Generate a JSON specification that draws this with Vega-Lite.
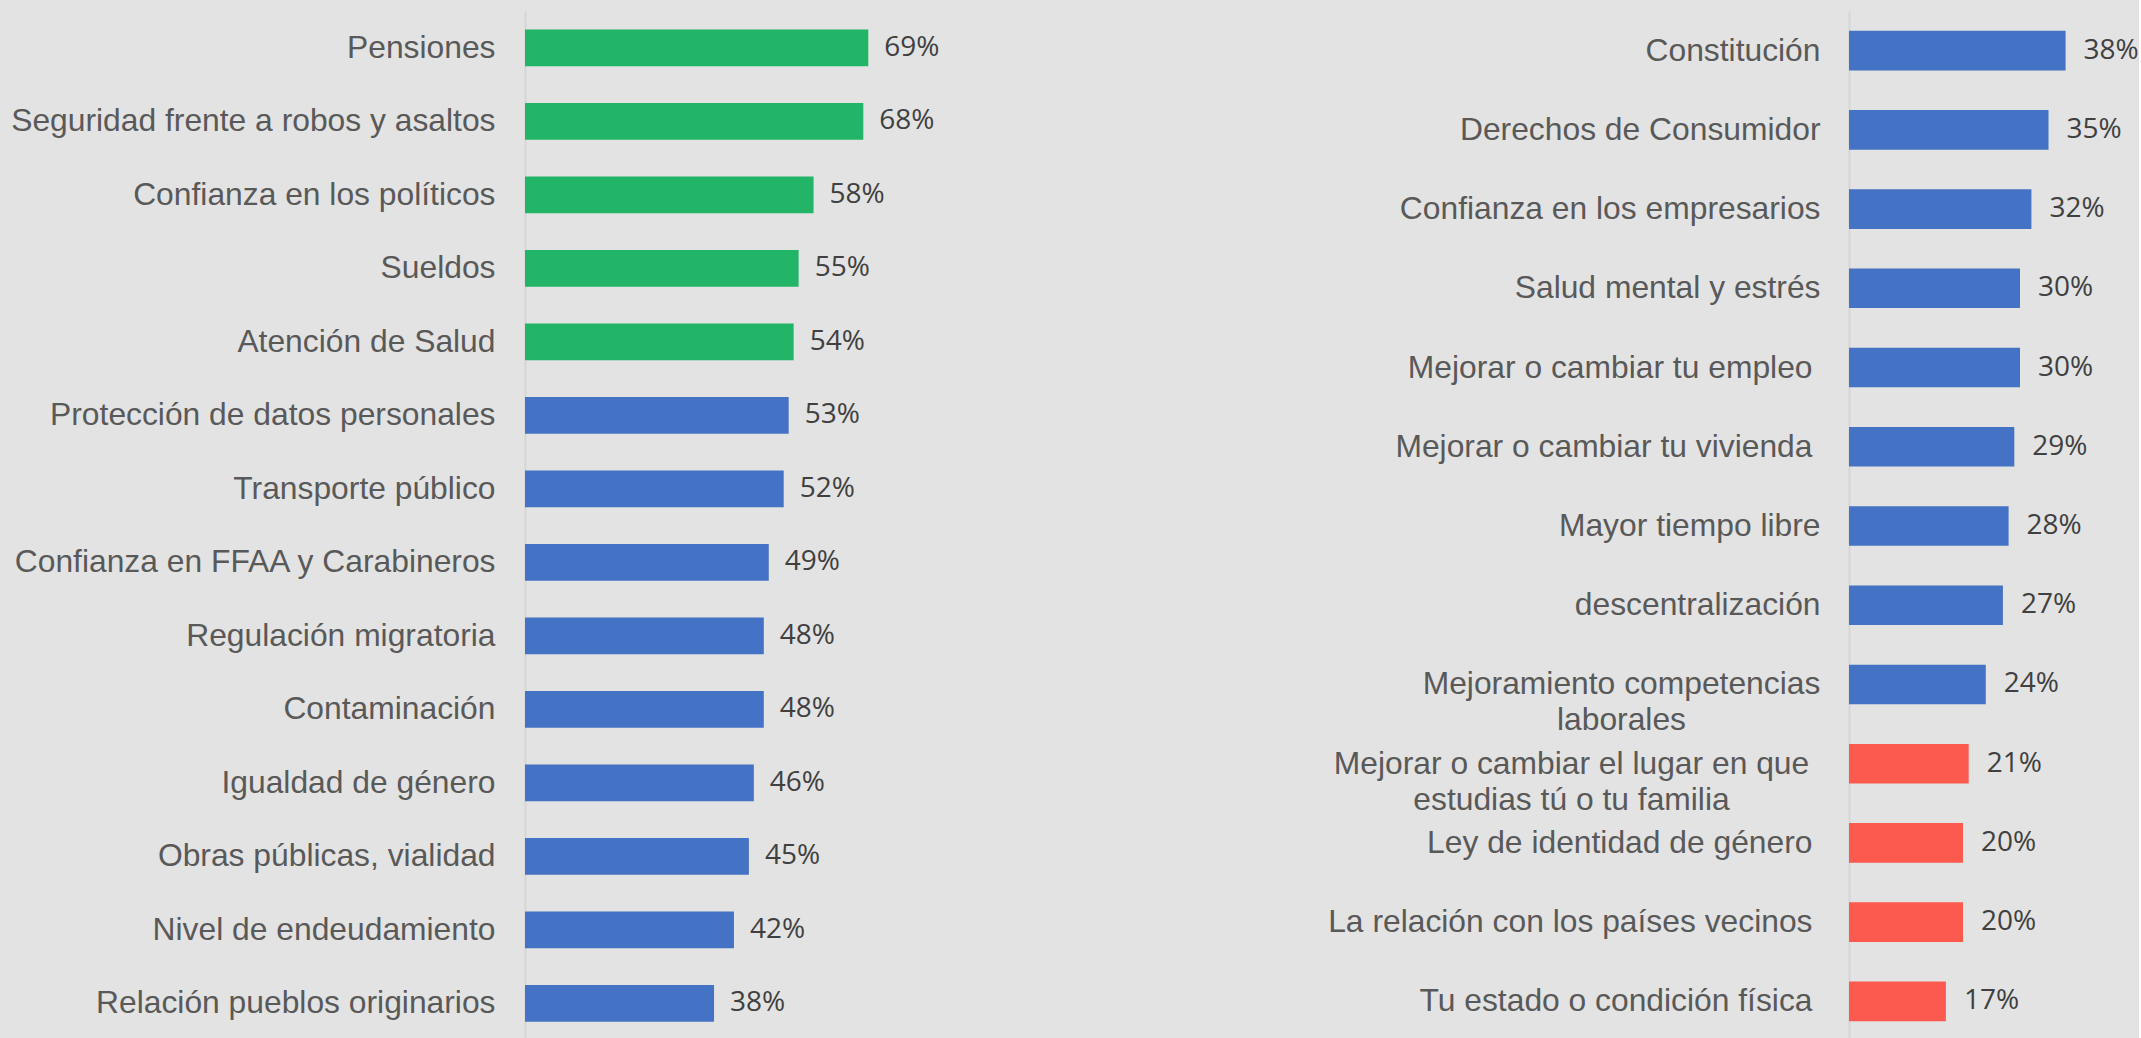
{
  "$schema": "https://vega.github.io/schema/vega-lite/v6.json",
  "background": "#e3e3e3",
  "padding": {"left": 10, "top": 11, "right": 0, "bottom": 0},
  "config": {
    "view": {"stroke": null},
    "font": "Liberation Sans"
  },
  "datasets": {
    "izquierda": [
      {"tema": "Pensiones", "valor": 0.69, "nivel": "alto"},
      {"tema": "Seguridad frente a robos y asaltos", "valor": 0.68, "nivel": "alto"},
      {"tema": "Confianza en los políticos", "valor": 0.58, "nivel": "alto"},
      {"tema": "Sueldos", "valor": 0.55, "nivel": "alto"},
      {"tema": "Atención de Salud", "valor": 0.54, "nivel": "alto"},
      {"tema": "Protección de datos personales", "valor": 0.53, "nivel": "medio"},
      {"tema": "Transporte público", "valor": 0.52, "nivel": "medio"},
      {"tema": "Confianza en FFAA y Carabineros", "valor": 0.49, "nivel": "medio"},
      {"tema": "Regulación migratoria", "valor": 0.48, "nivel": "medio"},
      {"tema": "Contaminación", "valor": 0.48, "nivel": "medio"},
      {"tema": "Igualdad de género", "valor": 0.46, "nivel": "medio"},
      {"tema": "Obras públicas, vialidad", "valor": 0.45, "nivel": "medio"},
      {"tema": "Nivel de endeudamiento", "valor": 0.42, "nivel": "medio"},
      {"tema": "Relación pueblos originarios", "valor": 0.38, "nivel": "medio"}
    ],
    "derecha": [
      {"tema": "Constitución", "valor": 0.38, "nivel": "medio"},
      {"tema": "Derechos de Consumidor", "valor": 0.35, "nivel": "medio"},
      {"tema": "Confianza en los empresarios", "valor": 0.32, "nivel": "medio"},
      {"tema": "Salud mental y estrés", "valor": 0.30, "nivel": "medio"},
      {"tema": "Mejorar o cambiar tu empleo ", "valor": 0.30, "nivel": "medio"},
      {"tema": "Mejorar o cambiar tu vivienda ", "valor": 0.29, "nivel": "medio"},
      {"tema": "Mayor tiempo libre", "valor": 0.28, "nivel": "medio"},
      {"tema": "descentralización", "valor": 0.27, "nivel": "medio"},
      {"tema": "Mejoramiento competencias\nlaborales", "valor": 0.24, "nivel": "medio"},
      {"tema": "Mejorar o cambiar el lugar en que\nestudias tú o tu familia", "valor": 0.21, "nivel": "bajo"},
      {"tema": "Ley de identidad de género ", "valor": 0.20, "nivel": "bajo"},
      {"tema": "La relación con los países vecinos ", "valor": 0.20, "nivel": "bajo"},
      {"tema": "Tu estado o condición física ", "valor": 0.17, "nivel": "bajo"}
    ]
  },
  "bounds": "flush",
  "spacing": 926,
  "hconcat": [
    {
      "data": {"name": "izquierda"},
      "width": 398,
      "height": 1029,
      "encoding": {
        "y": {
          "field": "tema", "type": "nominal", "sort": null,
          "scale": {"paddingInner": 0.5, "paddingOuter": 0.25},
          "axis": {
            "title": null, "ticks": false, "grid": false,
            "domainColor": "#d6d6d6", "domainWidth": 2,
            "labelFont": "Liberation Sans", "labelFontSize": 31.8, "labelColor": "#595959",
            "labelPadding": 30, "labelLimit": 800
          }
        },
        "x": {
          "field": "valor", "type": "quantitative",
          "scale": {"domain": [0, 0.8]},
          "axis": null
        }
      },
      "layer": [
        {
          "mark": {"type": "bar"},
          "encoding": {
            "color": {
              "field": "nivel", "type": "nominal", "legend": null,
              "scale": {"domain": ["alto", "medio", "bajo"], "range": ["#22b567", "#4472c4", "#fc5a4e"]}
            }
          }
        },
        {
          "mark": {"type": "text", "align": "left", "baseline": "middle", "dx": 16, "font": "Open Sans", "fontSize": 28, "color": "#404040"},
          "encoding": {"text": {"field": "valor", "type": "quantitative", "format": ".0%"}}
        }
      ]
    },
    {
      "data": {"name": "derecha"},
      "width": 285,
      "height": 1030,
      "encoding": {
        "y": {
          "field": "tema", "type": "nominal", "sort": null,
          "scale": {"paddingInner": 0.5, "paddingOuter": 0.25},
          "axis": {
            "title": null, "ticks": false, "grid": false,
            "domainColor": "#d6d6d6", "domainWidth": 2,
            "labelFont": "Liberation Sans", "labelFontSize": 31.8, "labelColor": "#595959",
            "labelLimit": 800, "labelLineHeight": 36,
            "labelExpr": "split(datum.label, '\\n')",
            "labelAlign": {"condition": {"test": "indexof(datum.value, '\\n') >= 0", "value": "center"}, "value": "right"},
            "labelPadding": {
              "condition": [
                {"test": "indexof(datum.value, 'Mejoramiento') >= 0", "value": 228},
                {"test": "indexof(datum.value, 'estudias') >= 0", "value": 278},
                {"test": "test(/ $/, datum.value)", "value": 37}
              ],
              "value": 29
            }
          }
        },
        "x": {
          "field": "valor", "type": "quantitative",
          "scale": {"domain": [0, 0.5]},
          "axis": null
        }
      },
      "layer": [
        {
          "mark": {"type": "bar"},
          "encoding": {
            "color": {
              "field": "nivel", "type": "nominal", "legend": null,
              "scale": {"domain": ["alto", "medio", "bajo"], "range": ["#22b567", "#4472c4", "#fc5a4e"]}
            }
          }
        },
        {
          "mark": {"type": "text", "align": "left", "baseline": "middle", "dx": 18, "font": "Open Sans", "fontSize": 28, "color": "#404040"},
          "encoding": {"text": {"field": "valor", "type": "quantitative", "format": ".0%"}}
        }
      ]
    }
  ]
}
